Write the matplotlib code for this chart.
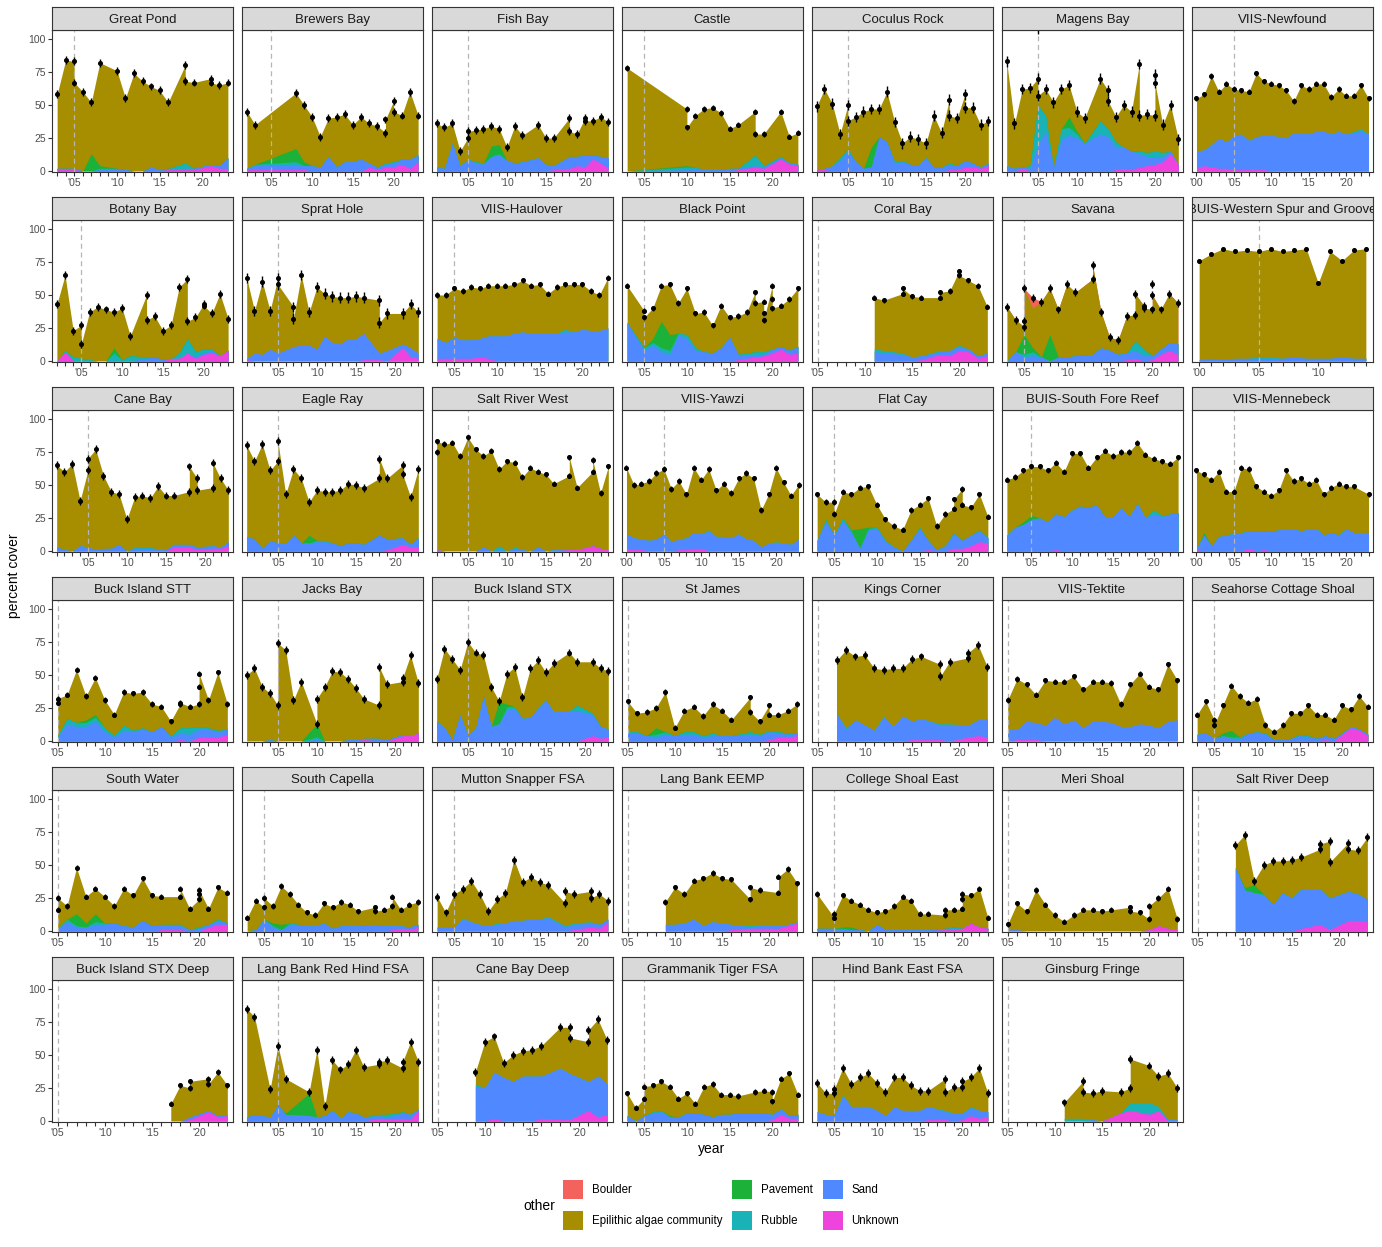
import numpy as np
import matplotlib
matplotlib.use("Agg")
import matplotlib.pyplot as plt
from matplotlib.patches import Patch

plt.rcParams['font.family'] = ['Liberation Sans', 'DejaVu Sans']

# ---- data: one block per site (years, mean total cover, component cover by year) ----
gp_yr = [2003, 2004, 2005, 2005, 2006, 2007, 2008, 2010, 2011, 2012, 2013, 2014, 2015, 2016, 2018, 2018, 2019, 2021, 2021, 2022, 2023]
gp_tot = [58, 84, 83, 67, 60, 52, 82, 76, 55, 74, 68, 64, 61, 52, 80, 68, 67, 70, 67, 65, 67]
gp_sand = {2003: 1, 2004: 1, 2005: 1, 2008: 1, 2010: 2, 2011: 1, 2014: 3, 2015: 1, 2018: 1, 2019: 1, 2021: 1, 2022: 2, 2023: 8}
gp_unk = {2003: 1, 2004: 1, 2005: 1, 2016: 1, 2018: 1, 2019: 1, 2021: 4, 2022: 2, 2023: 2}
gp_rub = {2008: 1, 2016: 1, 2018: 4}
gp_pav = {2007: 13, 2008: 2}

bb_yr = [2002, 2003, 2008, 2009, 2010, 2011, 2012, 2013, 2014, 2015, 2016, 2017, 2018, 2019, 2019, 2020, 2020, 2021, 2022, 2023]
bb_tot = [45, 35, 59, 50, 41, 26, 40, 41, 43, 35, 41, 36, 34, 29, 39, 53, 45, 42, 60, 42]
bb_sand = {2002: 1, 2003: 3, 2008: 4, 2009: 3, 2010: 4, 2011: 3, 2012: 11, 2013: 3, 2014: 7, 2015: 7, 2016: 9, 2017: 3, 2018: 2, 2019: 2, 2020: 3, 2021: 4, 2022: 7, 2023: 5}
bb_unk = {2002: 1, 2003: 1, 2008: 1, 2009: 1, 2017: 3, 2018: 1, 2019: 3, 2020: 3, 2021: 5, 2022: 2, 2023: 7}
bb_rub = {2003: 1, 2008: 2, 2019: 1, 2020: 1}
bb_pav = {2008: 10, 2009: 3}

fb_yr = [2001, 2002, 2003, 2004, 2005, 2005, 2006, 2007, 2008, 2009, 2010, 2011, 2012, 2014, 2015, 2016, 2018, 2018, 2019, 2020, 2020, 2021, 2022, 2023]
fb_tot = [36, 33, 36, 15, 25, 30, 31, 32, 34, 32, 18, 34, 27, 35, 25, 25, 40, 30, 28, 40, 38, 38, 41, 37]
fb_sand = {2001: 3, 2002: 2, 2003: 21, 2004: 4, 2005: 9, 2006: 6, 2007: 5, 2008: 11, 2009: 12, 2010: 8, 2011: 6, 2012: 7, 2014: 10, 2015: 5, 2016: 3, 2018: 9, 2019: 7, 2020: 9, 2021: 3, 2022: 5, 2023: 8}
fb_unk = {2016: 1, 2018: 2, 2019: 4, 2020: 3, 2021: 9, 2022: 6, 2023: 2}
fb_rub = {2006: 1, 2007: 1, 2009: 1}
fb_pav = {2008: 8, 2009: 7}

ca_yr = [2003, 2010, 2010, 2011, 2012, 2013, 2014, 2015, 2016, 2018, 2018, 2019, 2021, 2022, 2023]
ca_tot = [78, 47, 33, 42, 47, 48, 44, 32, 35, 45, 28, 28, 45, 26, 29]
ca_sand = {2010: 1, 2011: 2, 2012: 1, 2013: 1, 2014: 1, 2015: 2, 2016: 1, 2018: 1, 2019: 1, 2021: 1, 2022: 1, 2023: 1}
ca_unk = {2016: 1, 2018: 3, 2019: 2, 2021: 9, 2022: 5, 2023: 4}
ca_rub = {2010: 2, 2011: 1, 2018: 8, 2019: 1, 2021: 1}
ca_pav = {2010: 1}

cr_yr = [2001, 2002, 2003, 2004, 2005, 2005, 2006, 2007, 2008, 2009, 2010, 2011, 2012, 2013, 2014, 2015, 2016, 2017, 2018, 2018, 2019, 2020, 2020, 2021, 2022, 2023]
cr_tot = [49, 62, 51, 28, 50, 38, 41, 45, 47, 47, 60, 37, 21, 26, 24, 21, 42, 29, 54, 42, 40, 58, 48, 48, 35, 38]
cr_sand = {2002: 1, 2003: 4, 2004: 8, 2005: 15, 2006: 7, 2007: 2, 2008: 3, 2009: 26, 2010: 22, 2011: 6, 2012: 7, 2013: 5, 2014: 4, 2015: 10, 2016: 3, 2017: 3, 2018: 4, 2019: 3, 2020: 5, 2021: 3, 2022: 1, 2023: 2}
cr_unk = {2001: 1, 2002: 1, 2018: 1, 2019: 1, 2020: 3, 2021: 3, 2022: 2, 2023: 4}
cr_rub = {2004: 2, 2005: 2, 2011: 1, 2012: 1, 2018: 1}
cr_pav = {2008: 15}

mb_yr = [2001, 2002, 2003, 2004, 2005, 2005, 2005, 2006, 2007, 2008, 2009, 2010, 2011, 2013, 2014, 2014, 2015, 2016, 2017, 2018, 2018, 2019, 2020, 2020, 2020, 2021, 2022, 2023]
mb_tot = [83, 36, 62, 63, 70, 108, 57, 62, 52, 62, 65, 45, 40, 70, 61, 53, 41, 50, 45, 81, 42, 43, 42, 73, 67, 35, 50, 24]
mb_sand = {2001: 4, 2002: 2, 2003: 1, 2004: 2, 2005: 20, 2006: 30, 2007: 3, 2008: 24, 2009: 27, 2010: 25, 2011: 21, 2013: 28, 2014: 26, 2015: 17, 2016: 16, 2017: 14, 2018: 10, 2019: 7, 2020: 5, 2021: 4, 2022: 2}
mb_unk = {2003: 2, 2015: 1, 2016: 2, 2017: 1, 2018: 3, 2019: 4, 2020: 5, 2021: 7, 2022: 13, 2023: 5}
mb_rub = {2004: 2, 2005: 30, 2006: 12, 2008: 8, 2009: 6, 2010: 3, 2013: 10, 2014: 6, 2015: 4, 2018: 2, 2019: 3, 2020: 5, 2021: 3}
mb_pav = {2009: 8, 2010: 2}

nf_yr = [2000, 2001, 2002, 2003, 2004, 2005, 2006, 2007, 2008, 2009, 2010, 2011, 2012, 2013, 2014, 2015, 2016, 2017, 2018, 2019, 2020, 2021, 2022, 2023]
nf_tot = [55, 58, 72, 60, 66, 62, 61, 60, 74, 68, 66, 65, 61, 53, 65, 62, 66, 66, 56, 62, 57, 57, 65, 55]
nf_sand = {2000: 13, 2001: 12, 2002: 17, 2003: 23, 2004: 20, 2005: 26, 2006: 27, 2007: 22, 2008: 25, 2009: 26, 2010: 27, 2011: 26, 2012: 25, 2013: 29, 2014: 29, 2015: 28, 2016: 30, 2017: 30, 2018: 28, 2019: 30, 2020: 28, 2021: 29, 2022: 30, 2023: 28}
nf_unk = {2000: 2, 2001: 4, 2002: 3, 2003: 2, 2004: 2, 2005: 1, 2006: 1, 2007: 1, 2008: 1, 2009: 1}
nf_rub = {2021: 1, 2022: 2}

bo_yr = [2002, 2003, 2004, 2005, 2005, 2006, 2007, 2008, 2009, 2010, 2011, 2013, 2013, 2014, 2015, 2016, 2017, 2018, 2018, 2019, 2020, 2020, 2021, 2022, 2023]
bo_tot = [43, 65, 23, 27, 13, 37, 41, 39, 37, 40, 19, 50, 31, 34, 23, 27, 56, 62, 30, 33, 43, 42, 36, 51, 32]
bo_sand = {2013: 2, 2014: 3, 2015: 1, 2019: 1, 2020: 1, 2021: 2}
bo_unk = {2003: 7, 2016: 2, 2017: 2, 2018: 6, 2019: 2, 2020: 5, 2021: 6, 2022: 4, 2023: 8}
bo_rub = {2003: 1, 2004: 3, 2005: 2, 2006: 1, 2009: 6, 2010: 1, 2011: 4, 2013: 1, 2017: 4, 2018: 11, 2019: 4, 2020: 3, 2021: 1}
bo_pav = {2009: 4}

sh_yr = [2001, 2002, 2003, 2004, 2005, 2005, 2007, 2007, 2008, 2009, 2010, 2011, 2012, 2013, 2014, 2015, 2016, 2018, 2018, 2019, 2021, 2022, 2023]
sh_tot = [63, 38, 60, 38, 63, 58, 41, 32, 65, 37, 56, 51, 49, 48, 48, 49, 48, 46, 29, 36, 36, 43, 37]
sh_sand = {2001: 1, 2002: 6, 2003: 5, 2004: 9, 2005: 6, 2007: 11, 2008: 12, 2009: 12, 2010: 9, 2011: 19, 2012: 14, 2013: 13, 2014: 17, 2015: 17, 2016: 20, 2018: 5, 2019: 8, 2021: 3, 2022: 7, 2023: 4}
sh_unk = {2001: 1, 2016: 1, 2018: 1, 2021: 10, 2022: 3, 2023: 2}

vh_yr = [2003, 2004, 2005, 2006, 2007, 2008, 2009, 2010, 2011, 2012, 2013, 2014, 2015, 2016, 2017, 2018, 2019, 2020, 2021, 2022, 2023]
vh_tot = [50, 50, 55, 53, 56, 55, 57, 57, 57, 58, 61, 57, 58, 51, 56, 58, 58, 58, 53, 50, 63]
vh_sand = {2003: 15, 2004: 12, 2005: 16, 2006: 14, 2007: 14, 2008: 14, 2009: 17, 2010: 19, 2011: 19, 2012: 21, 2013: 22, 2014: 21, 2015: 21, 2016: 21, 2017: 21, 2018: 22, 2019: 22, 2020: 24, 2021: 23, 2022: 23, 2023: 25}
vh_unk = {2003: 2, 2004: 2, 2005: 2, 2006: 2, 2007: 2, 2008: 3, 2009: 2}
vh_rub = {2018: 2}

bp_yr = [2003, 2005, 2005, 2006, 2007, 2008, 2009, 2010, 2011, 2012, 2013, 2014, 2015, 2016, 2017, 2018, 2018, 2019, 2019, 2019, 2020, 2020, 2020, 2021, 2022, 2023]
bp_tot = [57, 38, 33, 40, 57, 58, 44, 55, 36, 37, 27, 42, 33, 34, 37, 52, 44, 45, 36, 31, 57, 47, 40, 42, 47, 55]
bp_sand = {2003: 29, 2005: 8, 2006: 12, 2007: 7, 2008: 5, 2009: 20, 2010: 17, 2011: 8, 2012: 7, 2013: 6, 2014: 10, 2015: 18, 2016: 4, 2017: 2, 2018: 2, 2019: 1, 2020: 3, 2021: 2, 2022: 3, 2023: 5}
bp_unk = {2016: 1, 2017: 2, 2018: 3, 2019: 4, 2020: 6, 2021: 9, 2022: 5, 2023: 6}
bp_rub = {2005: 2, 2006: 2, 2007: 3, 2008: 3, 2009: 1, 2010: 3, 2011: 2, 2017: 2, 2018: 2, 2019: 2}
bp_pav = {2006: 3, 2007: 20, 2008: 12}

cb_yr = [2011, 2012, 2014, 2014, 2015, 2016, 2018, 2018, 2019, 2020, 2020, 2021, 2022, 2023]
cb_tot = [48, 46, 51, 55, 49, 48, 48, 52, 53, 68, 65, 61, 57, 41]
cb_sand = {2011: 7, 2012: 6, 2014: 5, 2015: 3, 2016: 3, 2018: 2, 2019: 4, 2020: 3, 2021: 2, 2022: 2, 2023: 2}
cb_unk = {2016: 1, 2018: 5, 2019: 4, 2020: 8, 2021: 7, 2022: 2, 2023: 4}
cb_rub = {2011: 2, 2012: 2, 2014: 1, 2018: 1, 2020: 1}

sv_yr = [2003, 2004, 2005, 2005, 2005, 2006, 2007, 2008, 2009, 2010, 2011, 2013, 2013, 2014, 2015, 2016, 2017, 2018, 2018, 2019, 2019, 2020, 2020, 2020, 2021, 2022, 2023]
sv_tot = [41, 31, 26, 30, 55, 48, 45, 55, 39, 58, 52, 62, 73, 37, 18, 16, 34, 35, 51, 42, 40, 39, 58, 50, 39, 51, 44]
sv_sand = {2004: 7, 2005: 3, 2006: 4, 2007: 3, 2009: 3, 2010: 3, 2011: 4, 2013: 5, 2014: 10, 2015: 8, 2016: 5, 2017: 5, 2018: 6, 2019: 4, 2020: 3, 2021: 4, 2022: 6, 2023: 8}
sv_unk = {2017: 1, 2018: 2, 2020: 1, 2021: 5, 2022: 8, 2023: 5}
sv_rub = {2005: 2, 2006: 3, 2018: 7, 2019: 5}
sv_pav = {2005: 15, 2006: 3, 2008: 20}
sv_bou = {2006: 8}

ws_yr = [2000, 2001, 2002, 2003, 2004, 2005, 2006, 2007, 2008, 2009, 2010, 2011, 2012, 2013, 2014]
ws_tot = [76, 81, 85, 83, 84, 83, 85, 83, 84, 85, 59, 83, 76, 84, 85]
ws_sand = {2000: 1, 2001: 2, 2002: 1, 2003: 2, 2004: 2, 2005: 2, 2006: 2, 2007: 2, 2008: 3, 2009: 2, 2010: 2, 2011: 2, 2012: 3, 2013: 2, 2014: 2}
ws_rub = {2005: 1, 2006: 1}

cn_yr = [2001, 2002, 2003, 2004, 2005, 2005, 2006, 2007, 2008, 2009, 2010, 2011, 2012, 2013, 2014, 2015, 2016, 2018, 2018, 2019, 2019, 2021, 2021, 2022, 2023]
cn_tot = [65, 60, 66, 38, 61, 70, 77, 57, 45, 43, 24, 41, 42, 40, 49, 42, 42, 45, 64, 55, 46, 48, 67, 55, 46]
cn_sand = {2001: 3, 2002: 1, 2004: 4, 2005: 3, 2006: 1, 2007: 2, 2008: 2, 2009: 5, 2011: 2, 2012: 2, 2013: 2, 2014: 1, 2015: 1, 2016: 2, 2018: 2, 2019: 2, 2021: 2, 2022: 1, 2023: 3}
cn_unk = {2016: 3, 2018: 3, 2019: 1, 2021: 2, 2022: 2, 2023: 4}
cn_rub = {2011: 1, 2012: 1, 2013: 1}

er_yr = [2001, 2002, 2003, 2004, 2005, 2005, 2006, 2007, 2008, 2009, 2010, 2011, 2012, 2013, 2014, 2015, 2016, 2018, 2018, 2019, 2021, 2021, 2022, 2023]
er_tot = [80, 68, 81, 61, 68, 83, 43, 62, 55, 37, 46, 45, 45, 46, 51, 50, 48, 55, 70, 55, 65, 58, 41, 62]
er_sand = {2001: 11, 2002: 9, 2003: 2, 2004: 8, 2005: 6, 2006: 6, 2007: 12, 2008: 6, 2009: 6, 2010: 7, 2011: 7, 2012: 6, 2013: 4, 2014: 6, 2015: 6, 2016: 5, 2018: 12, 2019: 8, 2021: 5, 2022: 2, 2023: 7}
er_unk = {2019: 1, 2021: 5, 2022: 3, 2023: 3}
er_rub = {2010: 1, 2011: 1}
er_pav = {2009: 6}

sw_yr = [2001, 2001, 2002, 2003, 2004, 2005, 2006, 2007, 2008, 2009, 2010, 2011, 2012, 2013, 2014, 2015, 2016, 2018, 2018, 2019, 2021, 2021, 2022, 2023]
sw_tot = [75, 83, 81, 82, 72, 86, 77, 72, 76, 62, 68, 67, 56, 63, 60, 58, 51, 57, 71, 48, 60, 69, 44, 64]
sw_sand = {2007: 3, 2009: 1, 2011: 2, 2012: 1, 2014: 3, 2016: 1}
sw_unk = {2001: 1, 2018: 1, 2019: 1, 2021: 4, 2022: 2, 2023: 1}
sw_rub = {2009: 3, 2011: 1, 2018: 1}

vy_yr = [2000, 2001, 2002, 2003, 2004, 2005, 2006, 2007, 2008, 2009, 2010, 2011, 2012, 2013, 2014, 2015, 2016, 2017, 2018, 2019, 2020, 2021, 2022, 2023]
vy_tot = [63, 50, 51, 53, 59, 62, 47, 53, 43, 63, 54, 62, 46, 51, 44, 55, 59, 55, 31, 43, 63, 52, 42, 50]
vy_sand = {2000: 11, 2001: 9, 2002: 8, 2003: 8, 2004: 9, 2005: 13, 2006: 7, 2007: 8, 2008: 9, 2009: 12, 2010: 11, 2011: 15, 2012: 11, 2013: 11, 2014: 10, 2015: 13, 2016: 9, 2017: 8, 2018: 3, 2019: 6, 2020: 6, 2021: 6, 2022: 5, 2023: 9}
vy_unk = {2000: 2, 2001: 1, 2002: 1, 2007: 1, 2008: 1, 2009: 2, 2010: 2}
vy_rub = {2011: 1, 2020: 1}

fc_yr = [2003, 2004, 2005, 2005, 2006, 2007, 2008, 2009, 2010, 2011, 2012, 2013, 2014, 2015, 2016, 2017, 2018, 2019, 2019, 2020, 2020, 2021, 2022, 2023]
fc_tot = [43, 37, 37, 28, 45, 43, 48, 49, 35, 24, 19, 16, 31, 35, 40, 19, 28, 32, 39, 47, 35, 33, 43, 26]
fc_sand = {2003: 8, 2004: 22, 2005: 12, 2006: 23, 2007: 14, 2008: 2, 2009: 16, 2010: 17, 2011: 7, 2012: 3, 2014: 8, 2015: 17, 2016: 7, 2017: 1, 2018: 4, 2019: 11, 2020: 6, 2021: 8, 2022: 8, 2023: 4}
fc_unk = {2016: 1, 2019: 2, 2020: 2, 2021: 4, 2022: 7, 2023: 6}
fc_rub = {2004: 2, 2006: 2, 2007: 1, 2009: 1, 2010: 1, 2011: 1, 2015: 1, 2019: 1, 2022: 1}
fc_pav = {2007: 1, 2008: 15, 2009: 1}

sf_yr = [2002, 2003, 2004, 2005, 2006, 2007, 2008, 2009, 2010, 2011, 2012, 2013, 2014, 2015, 2016, 2017, 2018, 2019, 2020, 2021, 2022, 2023]
sf_tot = [54, 56, 61, 64, 64, 61, 67, 60, 74, 74, 63, 71, 76, 72, 75, 75, 82, 73, 70, 68, 66, 71]
sf_sand = {2002: 12, 2003: 18, 2004: 20, 2005: 24, 2006: 25, 2007: 22, 2008: 27, 2009: 26, 2010: 31, 2011: 34, 2012: 33, 2013: 35, 2014: 26, 2015: 26, 2016: 33, 2017: 26, 2018: 36, 2019: 25, 2020: 28, 2021: 26, 2022: 28, 2023: 29}
sf_unk = {2008: 1}
sf_rub = {2020: 3, 2021: 1}
sf_pav = {2004: 2, 2005: 3}

mn_yr = [2000, 2001, 2002, 2003, 2004, 2005, 2006, 2007, 2008, 2009, 2010, 2011, 2012, 2013, 2014, 2015, 2016, 2017, 2018, 2019, 2020, 2021, 2023]
mn_tot = [61, 58, 54, 60, 45, 45, 63, 62, 49, 45, 42, 46, 61, 53, 55, 51, 54, 43, 48, 51, 49, 49, 43]
mn_sand = {2000: 1, 2001: 12, 2002: 4, 2003: 11, 2004: 12, 2005: 13, 2006: 14, 2007: 13, 2008: 15, 2009: 14, 2010: 15, 2011: 16, 2012: 17, 2013: 17, 2014: 15, 2015: 17, 2016: 17, 2017: 12, 2018: 14, 2019: 12, 2020: 17, 2021: 14, 2023: 14}
mn_unk = {2000: 1, 2007: 2, 2009: 1}
mn_rub = {2005: 1}
mn_pav = {2001: 2}

bs_yr = [2005, 2005, 2006, 2007, 2008, 2009, 2010, 2011, 2012, 2013, 2014, 2015, 2016, 2017, 2018, 2018, 2019, 2020, 2020, 2020, 2021, 2022, 2023]
bs_tot = [29, 32, 35, 54, 34, 48, 31, 20, 37, 36, 37, 28, 26, 15, 28, 29, 26, 28, 41, 51, 31, 52, 28]
bs_sand = {2005: 3, 2006: 13, 2007: 11, 2008: 11, 2009: 15, 2010: 7, 2011: 3, 2012: 8, 2013: 7, 2014: 9, 2015: 7, 2016: 11, 2017: 3, 2018: 5, 2019: 5, 2020: 6, 2021: 6, 2022: 4, 2023: 4}
bs_unk = {2018: 1, 2020: 3, 2021: 3, 2022: 3, 2023: 5}
bs_rub = {2005: 1, 2006: 4, 2007: 3, 2008: 3, 2009: 3, 2010: 3, 2011: 1, 2012: 4, 2013: 1, 2014: 1, 2017: 1, 2018: 4, 2019: 5, 2020: 2, 2021: 1, 2022: 1}
bs_pav = {2008: 2, 2009: 2}

jb_yr = [2001, 2002, 2003, 2004, 2005, 2005, 2006, 2007, 2008, 2010, 2010, 2011, 2012, 2013, 2014, 2015, 2016, 2018, 2018, 2019, 2021, 2021, 2022, 2023]
jb_tot = [50, 55, 41, 36, 27, 74, 69, 31, 45, 13, 32, 41, 53, 52, 47, 40, 32, 27, 56, 43, 45, 48, 65, 44]
jb_sand = {2004: 1, 2010: 1, 2014: 1, 2015: 1, 2016: 1, 2018: 2, 2019: 1, 2021: 1}
jb_unk = {2016: 1, 2021: 4, 2022: 4, 2023: 6}
jb_rub = {2010: 2}
jb_pav = {2010: 10}

bx_yr = [2001, 2002, 2003, 2004, 2005, 2006, 2007, 2008, 2009, 2010, 2011, 2012, 2013, 2014, 2015, 2016, 2018, 2019, 2021, 2022, 2023]
bx_tot = [47, 70, 62, 54, 75, 67, 65, 41, 30, 51, 56, 33, 55, 61, 52, 59, 67, 60, 60, 55, 53]
bx_sand = {2001: 15, 2002: 10, 2003: 1, 2004: 20, 2005: 4, 2006: 10, 2007: 34, 2008: 11, 2009: 13, 2010: 24, 2011: 24, 2012: 17, 2013: 18, 2014: 25, 2015: 31, 2016: 22, 2018: 23, 2019: 23, 2021: 16, 2022: 9, 2023: 6}
bx_unk = {2021: 4, 2022: 2, 2023: 3}
bx_rub = {2010: 2, 2011: 2, 2019: 4, 2021: 1}
bx_pav = {2009: 17, 2010: 2}

sj_yr = [2005, 2006, 2007, 2008, 2009, 2010, 2011, 2012, 2013, 2014, 2015, 2016, 2018, 2018, 2019, 2020, 2020, 2021, 2022, 2023]
sj_tot = [30, 21, 22, 25, 37, 10, 23, 26, 19, 28, 23, 16, 33, 22, 15, 27, 20, 20, 23, 28]
sj_sand = {2005: 6, 2006: 6, 2007: 4, 2008: 3, 2009: 5, 2010: 4, 2011: 5, 2012: 5, 2013: 3, 2014: 4, 2015: 4, 2016: 4, 2018: 5, 2019: 4, 2020: 6, 2021: 3, 2022: 2, 2023: 2}
sj_unk = {2020: 1, 2021: 3, 2022: 3, 2023: 4}
sj_rub = {2005: 1, 2006: 1, 2008: 2, 2009: 2, 2011: 2, 2012: 2, 2013: 1, 2014: 2, 2018: 2, 2019: 1, 2020: 1, 2021: 1, 2022: 1}
sj_pav = {2008: 5}

kc_yr = [2007, 2008, 2009, 2010, 2011, 2012, 2013, 2014, 2015, 2016, 2018, 2018, 2019, 2021, 2021, 2022, 2023]
kc_tot = [61, 69, 64, 65, 55, 54, 55, 55, 62, 64, 58, 49, 60, 63, 67, 73, 56]
kc_sand = {2007: 21, 2008: 9, 2009: 16, 2010: 12, 2011: 8, 2012: 18, 2013: 11, 2014: 19, 2015: 14, 2016: 16, 2018: 11, 2019: 12, 2021: 9, 2022: 12, 2023: 14}
kc_unk = {2015: 1, 2016: 1, 2018: 1, 2021: 3, 2022: 4, 2023: 3}
kc_rub = {2008: 1, 2012: 1, 2018: 1, 2019: 1}

vt_yr = [2005, 2006, 2007, 2008, 2009, 2010, 2011, 2012, 2013, 2014, 2015, 2016, 2017, 2018, 2019, 2020, 2021, 2022, 2023]
vt_tot = [31, 47, 43, 35, 46, 45, 45, 49, 39, 45, 45, 44, 28, 43, 51, 41, 39, 58, 46]
vt_sand = {2005: 9, 2006: 8, 2007: 14, 2008: 13, 2009: 12, 2010: 18, 2011: 13, 2012: 16, 2013: 10, 2014: 15, 2015: 15, 2016: 14, 2017: 11, 2018: 11, 2019: 13, 2020: 12, 2021: 10, 2022: 15, 2023: 16}
vt_unk = {2006: 1, 2007: 1, 2008: 1}

sc_yr = [2003, 2004, 2005, 2005, 2006, 2007, 2008, 2009, 2010, 2011, 2012, 2013, 2014, 2015, 2016, 2017, 2018, 2019, 2020, 2021, 2022, 2023]
sc_tot = [20, 30, 16, 12, 27, 42, 34, 29, 32, 12, 7, 12, 21, 21, 27, 20, 20, 16, 27, 24, 34, 26]
sc_sand = {2003: 5, 2004: 6, 2005: 2, 2006: 4, 2007: 2, 2008: 2, 2009: 6, 2010: 7, 2011: 5, 2012: 1, 2013: 1, 2014: 2, 2015: 4, 2016: 3, 2017: 2, 2018: 3, 2019: 2, 2020: 1, 2021: 1, 2022: 1, 2023: 1}
sc_unk = {2018: 1, 2020: 5, 2021: 10, 2022: 8, 2023: 4}
sc_rub = {2007: 1, 2008: 1, 2011: 1, 2015: 1, 2016: 1}
sc_pav = {2006: 2, 2007: 5}

swa_yr = [2005, 2005, 2006, 2007, 2008, 2009, 2010, 2011, 2012, 2013, 2014, 2015, 2016, 2018, 2018, 2019, 2020, 2020, 2020, 2021, 2022, 2023]
swa_tot = [16, 25, 19, 48, 26, 32, 26, 19, 32, 27, 40, 27, 26, 26, 32, 17, 24, 28, 31, 17, 33, 29]
swa_sand = {2005: 2, 2006: 7, 2007: 3, 2008: 3, 2009: 5, 2010: 5, 2011: 6, 2012: 4, 2013: 3, 2014: 8, 2015: 4, 2016: 4, 2018: 3, 2019: 1, 2020: 2, 2021: 2, 2022: 3, 2023: 1}
swa_unk = {2016: 1, 2018: 1, 2021: 3, 2022: 5, 2023: 5}
swa_rub = {2006: 2, 2007: 1, 2009: 2, 2010: 1, 2018: 1, 2020: 1, 2022: 1}
swa_pav = {2007: 9, 2008: 3, 2009: 6}

scp_yr = [2003, 2004, 2005, 2005, 2006, 2007, 2008, 2009, 2010, 2011, 2012, 2013, 2014, 2015, 2016, 2018, 2018, 2019, 2020, 2020, 2021, 2022, 2023]
scp_tot = [10, 23, 18, 25, 19, 34, 28, 20, 14, 12, 21, 18, 22, 20, 15, 18, 15, 16, 19, 26, 16, 20, 22]
scp_sand = {2004: 1, 2005: 9, 2006: 3, 2007: 1, 2008: 5, 2009: 5, 2010: 4, 2011: 4, 2012: 6, 2013: 2, 2014: 4, 2015: 4, 2016: 4, 2018: 5, 2019: 4, 2020: 3, 2021: 2, 2022: 2, 2023: 2}
scp_unk = {2020: 1, 2021: 2, 2022: 1, 2023: 3}
scp_rub = {2006: 1, 2008: 1}
scp_pav = {2006: 2, 2007: 4}

ms_yr = [2003, 2004, 2005, 2006, 2007, 2008, 2009, 2010, 2011, 2012, 2013, 2014, 2015, 2016, 2018, 2018, 2019, 2021, 2021, 2022, 2023]
ms_tot = [26, 14, 28, 32, 38, 28, 15, 24, 29, 54, 37, 41, 37, 35, 21, 30, 28, 30, 25, 28, 23]
ms_sand = {2003: 3, 2004: 3, 2005: 3, 2006: 9, 2007: 7, 2008: 5, 2009: 4, 2010: 5, 2011: 6, 2012: 8, 2013: 8, 2014: 9, 2015: 9, 2016: 10, 2018: 3, 2019: 4, 2021: 3, 2022: 3, 2023: 2}
ms_unk = {2019: 1, 2021: 3, 2022: 2, 2023: 7}
ms_rub = {2006: 1, 2010: 1, 2016: 1, 2018: 1, 2019: 1, 2021: 1}

le_yr = [2009, 2010, 2011, 2012, 2013, 2014, 2015, 2016, 2018, 2018, 2019, 2021, 2021, 2022, 2023]
le_tot = [22, 33, 28, 38, 40, 44, 40, 39, 24, 33, 31, 29, 41, 47, 36]
le_sand = {2009: 5, 2010: 5, 2011: 6, 2012: 9, 2013: 4, 2014: 7, 2015: 6, 2016: 4, 2018: 1, 2019: 2, 2021: 2, 2022: 1, 2023: 1}
le_unk = {2016: 1, 2018: 2, 2019: 2, 2021: 2, 2022: 4, 2023: 6}
le_rub = {2018: 1, 2019: 1}

cs_yr = [2003, 2005, 2005, 2006, 2007, 2008, 2009, 2010, 2011, 2012, 2013, 2014, 2015, 2016, 2018, 2018, 2019, 2020, 2020, 2020, 2021, 2022, 2023]
cs_tot = [28, 10, 13, 27, 23, 20, 16, 14, 15, 19, 26, 23, 13, 13, 12, 16, 16, 17, 24, 28, 27, 32, 10]
cs_sand = {2003: 2, 2005: 2, 2006: 1, 2007: 1, 2008: 1, 2010: 5, 2011: 1, 2012: 1, 2013: 1, 2014: 1, 2015: 1, 2016: 1, 2018: 1, 2019: 1}
cs_unk = {2018: 1, 2019: 1, 2020: 2, 2021: 6, 2022: 3, 2023: 2}
cs_rub = {2006: 1, 2019: 1}
cs_pav = {2006: 1, 2007: 2}

mr_yr = [2005, 2006, 2007, 2008, 2009, 2010, 2011, 2012, 2013, 2014, 2015, 2016, 2018, 2018, 2019, 2020, 2020, 2021, 2022, 2023]
mr_tot = [5, 21, 15, 31, 20, 12, 7, 12, 16, 16, 15, 16, 18, 15, 14, 9, 19, 25, 32, 9]
mr_sand = {2005: 1, 2006: 1}
mr_unk = {2020: 1, 2021: 4, 2022: 2, 2023: 1}

sd_yr = [2009, 2010, 2011, 2012, 2013, 2014, 2015, 2016, 2018, 2018, 2019, 2019, 2021, 2021, 2022, 2023]
sd_tot = [65, 73, 38, 50, 53, 53, 54, 56, 62, 66, 68, 52, 67, 62, 61, 71]
sd_sand = {2009: 48, 2010: 31, 2011: 29, 2012: 27, 2013: 20, 2014: 29, 2015: 25, 2016: 30, 2018: 27, 2019: 24, 2021: 22, 2022: 20, 2023: 17}
sd_unk = {2016: 2, 2018: 5, 2019: 1, 2021: 8, 2022: 8, 2023: 7}
sd_rub = {2012: 1}
sd_pav = {2010: 2, 2011: 6}

bd_yr = [2017, 2018, 2019, 2019, 2021, 2021, 2022, 2023]
bd_tot = [13, 27, 25, 30, 32, 28, 37, 27]
bd_sand = {2019: 2, 2021: 1, 2022: 1, 2023: 1}
bd_unk = {2019: 1, 2021: 7, 2022: 3, 2023: 4}

lr_yr = [2001, 2002, 2004, 2005, 2006, 2009, 2010, 2011, 2012, 2013, 2014, 2015, 2016, 2018, 2018, 2019, 2021, 2021, 2022, 2023]
lr_tot = [85, 79, 24, 57, 32, 22, 54, 11, 46, 39, 43, 54, 41, 43, 45, 46, 40, 45, 60, 45]
lr_sand = {2001: 3, 2002: 5, 2004: 3, 2005: 12, 2006: 5, 2009: 4, 2010: 3, 2011: 4, 2012: 8, 2013: 2, 2014: 7, 2015: 6, 2016: 3, 2018: 2, 2019: 2, 2021: 4, 2022: 4, 2023: 1}
lr_unk = {2018: 2, 2019: 1, 2021: 2, 2022: 1, 2023: 8}
lr_rub = {2018: 1, 2019: 2, 2021: 1}
lr_pav = {2006: 1, 2009: 17}

cd_yr = [2009, 2010, 2011, 2012, 2013, 2014, 2015, 2016, 2018, 2019, 2019, 2021, 2021, 2022, 2023]
cd_tot = [37, 60, 64, 44, 50, 53, 54, 57, 71, 71, 63, 60, 69, 77, 61]
cd_sand = {2009: 26, 2010: 25, 2011: 35, 2012: 33, 2013: 30, 2014: 34, 2015: 34, 2016: 32, 2018: 39, 2019: 35, 2021: 22, 2022: 31, 2023: 23}
cd_unk = {2011: 2, 2016: 2, 2018: 1, 2019: 1, 2021: 8, 2022: 3, 2023: 5}
cd_rub = {2009: 2}

gt_yr = [2003, 2004, 2005, 2005, 2006, 2007, 2008, 2009, 2010, 2011, 2012, 2013, 2014, 2015, 2016, 2018, 2019, 2020, 2020, 2021, 2022, 2023]
gt_tot = [21, 10, 17, 26, 27, 30, 26, 17, 21, 13, 26, 28, 20, 20, 19, 22, 23, 22, 15, 32, 36, 20]
gt_sand = {2003: 4, 2005: 4, 2006: 6, 2007: 7, 2008: 3, 2009: 3, 2010: 6, 2011: 6, 2012: 5, 2013: 3, 2014: 5, 2015: 5, 2016: 6, 2018: 6, 2019: 6, 2020: 4, 2021: 4, 2022: 2, 2023: 3}
gt_unk = {2020: 1, 2021: 5, 2022: 2, 2023: 2}
gt_rub = {2006: 1, 2007: 1}
gt_pav = {2008: 1}

hb_yr = [2003, 2004, 2005, 2005, 2006, 2007, 2008, 2009, 2010, 2011, 2012, 2013, 2014, 2015, 2016, 2018, 2018, 2019, 2020, 2020, 2021, 2022, 2023]
hb_tot = [29, 21, 21, 24, 40, 28, 33, 36, 29, 22, 33, 33, 27, 23, 23, 32, 22, 26, 26, 30, 33, 40, 21]
hb_sand = {2003: 7, 2004: 5, 2005: 4, 2006: 19, 2007: 11, 2008: 11, 2009: 11, 2010: 8, 2011: 4, 2012: 11, 2013: 8, 2014: 8, 2015: 8, 2016: 10, 2018: 6, 2019: 6, 2020: 5, 2021: 6, 2022: 6, 2023: 4}
hb_unk = {2016: 1, 2018: 1, 2020: 1, 2021: 4, 2022: 2, 2023: 3}
hb_rub = {2006: 1, 2018: 1, 2021: 1}

gf_yr = [2011, 2013, 2013, 2014, 2015, 2017, 2018, 2018, 2020, 2021, 2022, 2023]
gf_tot = [14, 30, 22, 21, 23, 22, 25, 47, 42, 34, 36, 25]
gf_sand = {2014: 1, 2022: 1, 2023: 1}
gf_unk = {2017: 6, 2018: 8, 2020: 5, 2021: 8}
gf_rub = {2011: 2, 2013: 2, 2018: 6, 2020: 9, 2021: 3}

# site, years, total, sand, unknown, rubble, pavement, boulder, typical SE
sites = [
    ("Great Pond", gp_yr, gp_tot, gp_sand, gp_unk, gp_rub, gp_pav, {}, 3),
    ("Brewers Bay", bb_yr, bb_tot, bb_sand, bb_unk, bb_rub, bb_pav, {}, 3),
    ("Fish Bay", fb_yr, fb_tot, fb_sand, fb_unk, fb_rub, fb_pav, {}, 3),
    ("Castle", ca_yr, ca_tot, ca_sand, ca_unk, ca_rub, ca_pav, {}, 2),
    ("Coculus Rock", cr_yr, cr_tot, cr_sand, cr_unk, cr_rub, cr_pav, {}, 4),
    ("Magens Bay", mb_yr, mb_tot, mb_sand, mb_unk, mb_rub, mb_pav, {}, 4),
    ("VIIS-Newfound", nf_yr, nf_tot, nf_sand, nf_unk, nf_rub, {}, {}, 2),
    ("Botany Bay", bo_yr, bo_tot, bo_sand, bo_unk, bo_rub, bo_pav, {}, 3),
    ("Sprat Hole", sh_yr, sh_tot, sh_sand, sh_unk, {}, {}, {}, 4),
    ("VIIS-Haulover", vh_yr, vh_tot, vh_sand, vh_unk, vh_rub, {}, {}, 2),
    ("Black Point", bp_yr, bp_tot, bp_sand, bp_unk, bp_rub, bp_pav, {}, 2),
    ("Coral Bay", cb_yr, cb_tot, cb_sand, cb_unk, cb_rub, {}, {}, 2),
    ("Savana", sv_yr, sv_tot, sv_sand, sv_unk, sv_rub, sv_pav, sv_bou, 3),
    ("BUIS-Western Spur and Groove", ws_yr, ws_tot, ws_sand, {}, ws_rub, {}, {}, 1),
    ("Cane Bay", cn_yr, cn_tot, cn_sand, cn_unk, cn_rub, {}, {}, 3),
    ("Eagle Ray", er_yr, er_tot, er_sand, er_unk, er_rub, er_pav, {}, 3),
    ("Salt River West", sw_yr, sw_tot, sw_sand, sw_unk, sw_rub, {}, {}, 2),
    ("VIIS-Yawzi", vy_yr, vy_tot, vy_sand, vy_unk, vy_rub, {}, {}, 2),
    ("Flat Cay", fc_yr, fc_tot, fc_sand, fc_unk, fc_rub, fc_pav, {}, 2),
    ("BUIS-South Fore Reef", sf_yr, sf_tot, sf_sand, sf_unk, sf_rub, sf_pav, {}, 2),
    ("VIIS-Mennebeck", mn_yr, mn_tot, mn_sand, mn_unk, mn_rub, mn_pav, {}, 2),
    ("Buck Island STT", bs_yr, bs_tot, bs_sand, bs_unk, bs_rub, bs_pav, {}, 2),
    ("Jacks Bay", jb_yr, jb_tot, jb_sand, jb_unk, jb_rub, jb_pav, {}, 3),
    ("Buck Island STX", bx_yr, bx_tot, bx_sand, bx_unk, bx_rub, bx_pav, {}, 3),
    ("St James", sj_yr, sj_tot, sj_sand, sj_unk, sj_rub, sj_pav, {}, 2),
    ("Kings Corner", kc_yr, kc_tot, kc_sand, kc_unk, kc_rub, {}, {}, 3),
    ("VIIS-Tektite", vt_yr, vt_tot, vt_sand, vt_unk, {}, {}, {}, 2),
    ("Seahorse Cottage Shoal", sc_yr, sc_tot, sc_sand, sc_unk, sc_rub, sc_pav, {}, 2),
    ("South Water", swa_yr, swa_tot, swa_sand, swa_unk, swa_rub, swa_pav, {}, 2),
    ("South Capella", scp_yr, scp_tot, scp_sand, scp_unk, scp_rub, scp_pav, {}, 2),
    ("Mutton Snapper FSA", ms_yr, ms_tot, ms_sand, ms_unk, ms_rub, {}, {}, 3),
    ("Lang Bank EEMP", le_yr, le_tot, le_sand, le_unk, le_rub, {}, {}, 2),
    ("College Shoal East", cs_yr, cs_tot, cs_sand, cs_unk, cs_rub, cs_pav, {}, 2),
    ("Meri Shoal", mr_yr, mr_tot, mr_sand, mr_unk, {}, {}, {}, 2),
    ("Salt River Deep", sd_yr, sd_tot, sd_sand, sd_unk, sd_rub, sd_pav, {}, 3),
    ("Buck Island STX Deep", bd_yr, bd_tot, bd_sand, bd_unk, {}, {}, {}, 2),
    ("Lang Bank Red Hind FSA", lr_yr, lr_tot, lr_sand, lr_unk, lr_rub, lr_pav, {}, 3),
    ("Cane Bay Deep", cd_yr, cd_tot, cd_sand, cd_unk, cd_rub, {}, {}, 3),
    ("Grammanik Tiger FSA", gt_yr, gt_tot, gt_sand, gt_unk, gt_rub, gt_pav, {}, 2),
    ("Hind Bank East FSA", hb_yr, hb_tot, hb_sand, hb_unk, hb_rub, {}, {}, 3),
    ("Ginsburg Fringe", gf_yr, gf_tot, gf_sand, gf_unk, gf_rub, {}, {}, 3),
]

categories = ["Boulder", "Epilithic algae community", "Pavement", "Rubble", "Sand", "Unknown"]
colors = {"Boulder": "#F3625D", "Epilithic algae community": "#A68E00", "Pavement": "#1CB23A",
          "Rubble": "#19B2B6", "Sand": "#5088FF", "Unknown": "#EE44DD"}

W, H = 1382, 1247
fig = plt.figure(figsize=(W / 100, H / 100), dpi=100)

col_x = [52, 242, 432, 622, 812, 1002, 1192]
row_top = [30, 220, 410, 600, 790, 980]
pw, ph, sh_ = 181, 142, 23


def comp(d, yrs):
    return np.array([d.get(y, 0) for y in yrs], dtype=float)


for i, (name, yr, tot, sand, unk, rub, pav, bou, se) in enumerate(sites):
    r, c = divmod(i, 7)
    x0, y0 = col_x[c], row_top[r]
    ax = fig.add_axes([x0 / W, 1 - (y0 + ph) / H, pw / W, ph / H])
    st = fig.add_axes([x0 / W, 1 - y0 / H, pw / W, sh_ / H])

    x = np.array(yr, dtype=float)
    t = np.array(tot, dtype=float)
    u, s, rb, pv, bo = (comp(d, yr) for d in (unk, sand, rub, pav, bou))
    epi = np.clip(t - u - s - rb - pv - bo, 0, None)

    # stack bottom -> top, then paint tallest first so no seams show
    parts = [(u, "Unknown"), (s, "Sand"), (rb, "Rubble"), (pv, "Pavement"),
             (epi, "Epilithic algae community"), (bo, "Boulder")]
    tops = np.cumsum([p[0] for p in parts], axis=0)
    for k in range(len(parts) - 1, -1, -1):
        vals, cat = parts[k]
        if not vals.any():
            continue
        ax.fill_between(x, 0, tops[k], color=colors[cat], lw=0)

    ax.axvline(2005, color="#B5B5B5", ls=(0, (4, 3)), lw=0.9, zorder=3)
    ax.errorbar(x, t, yerr=se, fmt="o", ms=2.6, color="black", elinewidth=1.0, capsize=0, zorder=4)

    lo = min(yr[0], 2005)
    hi = yr[-1]
    ax.set_xlim(lo - 0.6, hi + 0.6)
    ax.set_ylim(-0.8, 106.8)
    yrs = list(range(lo, hi + 1))
    ax.set_xticks(yrs)
    ax.set_xticklabels([f"'{y % 100:02d}" if y % 5 == 0 else "" for y in yrs])
    ax.tick_params(axis="x", length=3, width=0.8, color="#333333", labelsize=7.5,
                   labelcolor="#4D4D4D", pad=1.5)
    if c == 0:
        ax.set_yticks([0, 25, 50, 75, 100])
        ax.tick_params(axis="y", length=3, width=0.8, color="#333333", labelsize=7.5,
                       labelcolor="#4D4D4D", pad=1.5)
    else:
        ax.set_yticks([])
    for sp in ax.spines.values():
        sp.set_color("#333333")
        sp.set_linewidth(0.8)

    st.set_facecolor("#D9D9D9")
    st.set_xticks([])
    st.set_yticks([])
    for sp in st.spines.values():
        sp.set_color("#333333")
        sp.set_linewidth(0.8)
    txt = st.text(0.5, 0.45, name, ha="center", va="center", fontsize=9.5,
                  color="#1A1A1A", transform=st.transAxes)
    txt.set_clip_on(True)

fig.text(14 / W, 1 - 576 / H, "percent cover", rotation=90, ha="center", va="center", fontsize=10)
fig.text(712 / W, 1 - 1149 / H, "year", ha="center", va="center", fontsize=10)

handles = [Patch(facecolor=colors[cat], edgecolor="none", label=cat) for cat in categories]
fig.legend(handles=handles, ncol=3, loc="upper left", bbox_to_anchor=(563 / W, 1 - 1180 / H),
           frameon=False, fontsize=8.3, handlelength=1.75, handleheight=2.2,
           handletextpad=0.75, columnspacing=0.85, labelspacing=1.0, borderpad=0, borderaxespad=0)
fig.text(539 / W, 1 - 1206 / H, "other", ha="center", va="center", fontsize=10)

fig.savefig("out.png", dpi=100)
